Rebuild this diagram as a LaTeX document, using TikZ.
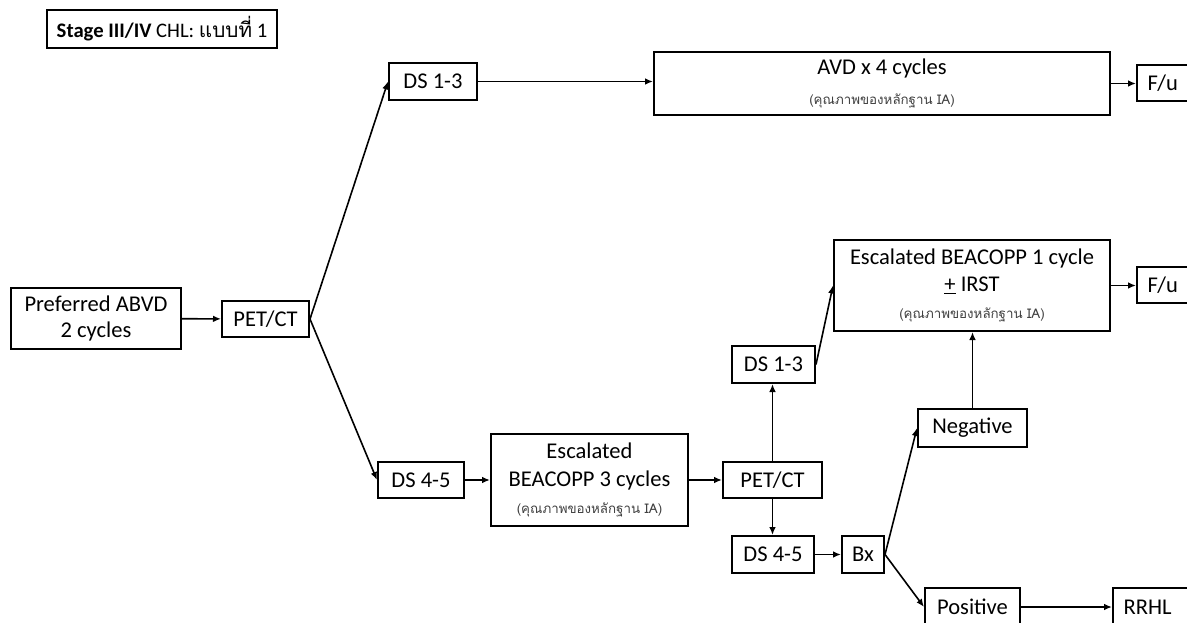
\documentclass[tikz,border=0pt]{standalone}
\usepackage{fontspec}
\setmainfont{Carlito}
\newfontfamily\thaifont[Script=Thai]{Loma}
\usetikzlibrary{arrows.meta}
\newcommand\evid{{\thaifont\fontsize{10}{12}\selectfont\color{black!75}(คุณภาพของหลักฐาน IA)}}
\tikzset{
  box/.style={draw, line width=1.5pt, inner sep=0pt, align=center,
    font=\fontsize{16.9}{19}\selectfont},
  openbox/.style={draw, line width=1.5pt, anchor=west, align=left,
    text width=70pt, inner xsep=8pt, inner ysep=0pt,
    font=\fontsize{16.9}{19}\selectfont},
  arr/.style={-{Latex[length=6pt,width=5pt]}, line width=1.2pt},
}
\begin{document}
\begin{tikzpicture}[x=0.75pt, y=-0.75pt]
\clip (0,0) rectangle (1187,623);
\fill[white] (0,0) rectangle (1187,623);

% heading
\node[box, minimum width=172.5pt, minimum height=28.5pt,
  font=\fontsize{15.5}{18}\selectfont] (title) at (162,29)
  {{\bfseries Stage III/IV} CHL: {\thaifont แบบที่} 1};

% first line of treatment
\node[box, minimum width=127.5pt, minimum height=45.75pt] (abvd) at (96,318.5)
  {Preferred ABVD\\2 cycles};
\node[box, minimum width=65.25pt, minimum height=27pt] (pet1) at (265.5,319) {PET/CT};

% upper branch
\node[box, minimum width=66pt, minimum height=27.75pt] (ds13a) at (433,81.5) {DS 1-3};
\node[box, minimum width=342pt, minimum height=47.25pt] (avd) at (882,83.5)
  {AVD x 4 cycles\\[4pt]\evid};
\node[openbox, minimum height=27pt] (fu1) at (1136,83) {F/u};

% lower branch
\node[box, minimum width=64.5pt, minimum height=27pt] (ds45a) at (421,480) {DS 4-5};
\node[box, minimum width=147.75pt, minimum height=69pt] (bea3) at (589.5,480)
  {Escalated\\[2pt]BEACOPP 3 cycles\\[1pt]\evid};
\node[box, minimum width=74.25pt, minimum height=27pt] (pet2) at (772.5,480) {PET/CT};
\node[box, minimum width=62.25pt, minimum height=27.75pt] (ds13b) at (773.5,364.5) {DS 1-3};
\node[box, minimum width=61.5pt, minimum height=27.75pt] (ds45b) at (773,554.5) {DS 4-5};
\node[box, minimum width=207pt, minimum height=68.25pt] (bea1) at (972,285.5)
  {Escalated BEACOPP 1 cycle\\[1pt]\underline{+} IRST\\[1pt]\evid};
\node[openbox, minimum height=27pt] (fu2) at (1136,285) {F/u};
\node[box, minimum width=31.5pt, minimum height=27.75pt] (bx) at (863,554.5) {Bx};
\node[box, minimum width=81.75pt, minimum height=28.5pt] (neg) at (972.5,428) {Negative};
\node[box, minimum width=71.25pt, minimum height=28.5pt] (pos) at (972.5,607) {Positive};
\node[openbox, minimum height=28.5pt] (rrhl) at (1112,607) {RRHL};

% connectors
\draw[arr] (abvd) -- (pet1);
\draw[arr] (pet1.east) -- (ds13a.west);
\draw[arr] (pet1.east) -- (ds45a.west);
\draw[arr] (ds13a.east) -- (ds13a.east -| avd.west);
\draw[arr] (avd.east) -- (avd.east -| fu1.west);
\draw[arr] (ds45a) -- (bea3);
\draw[arr] (bea3) -- (pet2);
\draw[arr] (pet2.north) -- (pet2.north |- ds13b.south);
\draw[arr] (pet2.south) -- (pet2.south |- ds45b.north);
\draw[arr] (ds13b.east) -- (bea1.west);
\draw[arr] (bea1.east) -- (bea1.east -| fu2.west);
\draw[arr] (ds45b) -- (bx);
\draw[arr] (bx.east) -- (neg.west);
\draw[arr] (bx.east) -- (pos.west);
\draw[arr] (neg.north) -- (neg.north |- bea1.south);
\draw[arr] (pos) -- (pos -| rrhl.west);
\end{tikzpicture}
\end{document}
